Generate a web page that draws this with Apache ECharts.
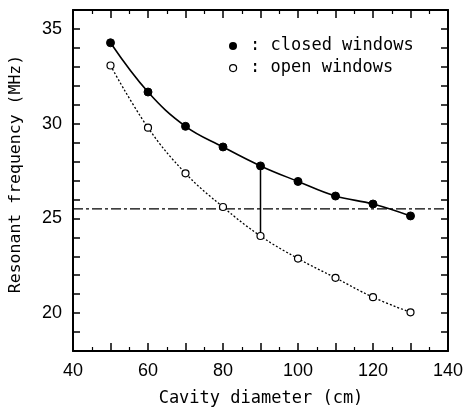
<!DOCTYPE html>
<html><head><meta charset="utf-8">
<script src="https://cdn.jsdelivr.net/npm/echarts@6/dist/echarts.min.js"></script>
<style>html,body{margin:0;padding:0;background:#fff}#c{width:469px;height:410px}</style>
</head><body><div id="c"></div>
<script>
const diameters = [50, 60, 70, 80, 90, 100, 110, 120, 130];
const closedWindows = [34.27, 31.67, 29.86, 28.77, 27.77, 26.95, 26.18, 25.76, 25.13];
const openWindows = [33.07, 29.79, 27.38, 25.6, 24.07, 22.88, 21.86, 20.84, 20.04];
const referenceLevel = 25.5;
const markDiameter = 90;
const xTickLabels = [40, 60, 80, 100, 120, 140];
const yTickLabels = [20, 25, 30, 35];

const chart = echarts.init(document.getElementById('c'));
const sans = 'Liberation Sans, Arial, sans-serif';
const mono = 'DejaVu Sans Mono, monospace';
const idxMark = diameters.indexOf(markDiameter);

const axisCommon = {
  axisLine: {show: true, lineStyle: {color: '#000', width: 2}},
  splitLine: {show: false}
};
chart.setOption({
  animation: false,
  grid: {left: 73, right: 21, top: 10, bottom: 59, containLabel: false, outerBoundsMode: 'none'},
  xAxis: [
    Object.assign({}, axisCommon, {
      type: 'value', min: 40, max: 140, interval: 10, position: 'bottom',
      axisTick: {show: true, inside: true, length: 8, lineStyle: {color: '#000', width: 1.5}},
      minorTick: {show: true, splitNumber: 2, length: 4, lineStyle: {color: '#000', width: 1.2}},
      axisLabel: {color: '#000', fontFamily: sans, fontSize: 18, margin: 11,
        formatter: v => xTickLabels.indexOf(v) >= 0 ? String(v) : ''}
    }),
    Object.assign({}, axisCommon, {
      type: 'value', min: 40, max: 140, interval: 10, position: 'top',
      axisTick: {show: true, inside: true, length: 8, lineStyle: {color: '#000', width: 1.5}},
      minorTick: {show: true, splitNumber: 2, length: 4, lineStyle: {color: '#000', width: 1.2}},
      axisLabel: {show: false}
    })
  ],
  yAxis: [
    Object.assign({}, axisCommon, {
      type: 'value', min: 18, max: 36, interval: 1, position: 'left',
      axisTick: {show: true, inside: true, length: 7, lineStyle: {color: '#000', width: 1.5}},
      axisLabel: {color: '#000', fontFamily: sans, fontSize: 18, margin: 11,
        formatter: v => yTickLabels.indexOf(v) >= 0 ? String(v) : ''}
    }),
    Object.assign({}, axisCommon, {
      type: 'value', min: 18, max: 36, interval: 1, position: 'right',
      axisTick: {show: true, inside: true, length: 7, lineStyle: {color: '#000', width: 1.5}},
      axisLabel: {show: false}
    })
  ],
  graphic: [
    {type: 'text', x: 16, y: 174, rotation: Math.PI / 2,
      style: {text: 'Resonant frequency (MHz)', font: '16.5px ' + mono, fill: '#000',
        align: 'center', verticalAlign: 'middle'}},
    {type: 'text', x: 261, y: 399,
      style: {text: 'Cavity diameter (cm)', font: '17px ' + mono, fill: '#000',
        align: 'center', verticalAlign: 'middle'}},
    {type: 'circle', left: 229, top: 42, shape: {r: 4}, style: {fill: '#000'}},
    {type: 'text', left: 250, top: 37, style: {text: ': closed windows', font: '17px ' + mono, fill: '#000'}},
    {type: 'circle', left: 229, top: 64, shape: {r: 3.5}, style: {fill: '#fff', stroke: '#000', lineWidth: 1.2}},
    {type: 'text', left: 250, top: 59, style: {text: ': open windows', font: '17px ' + mono, fill: '#000'}}
  ],
  series: [
    {
      type: 'line', name: 'reference', silent: true, symbol: 'none',
      data: [[40, referenceLevel], [140, referenceLevel]],
      lineStyle: {color: '#000', width: 1.2, type: [10, 3, 3, 3]}
    },
    {
      type: 'line', name: 'gap', silent: true, symbol: 'none',
      data: [[markDiameter, closedWindows[idxMark]], [markDiameter, openWindows[idxMark]]],
      lineStyle: {color: '#000', width: 1.5}
    },
    {
      type: 'line', name: 'closed windows', smooth: 0.4,
      data: diameters.map((d, i) => [d, closedWindows[i]]),
      symbol: 'circle', symbolSize: 8,
      itemStyle: {color: '#000', borderColor: '#000'},
      lineStyle: {color: '#000', width: 1.6}
    },
    {
      type: 'line', name: 'open windows', smooth: 0.4,
      data: diameters.map((d, i) => [d, openWindows[i]]),
      symbol: 'circle', symbolSize: 7,
      itemStyle: {color: '#fff', borderColor: '#000', borderWidth: 1.2},
      lineStyle: {color: '#000', width: 1.3, type: [2, 2]}
    }
  ]
});
</script></body></html>
